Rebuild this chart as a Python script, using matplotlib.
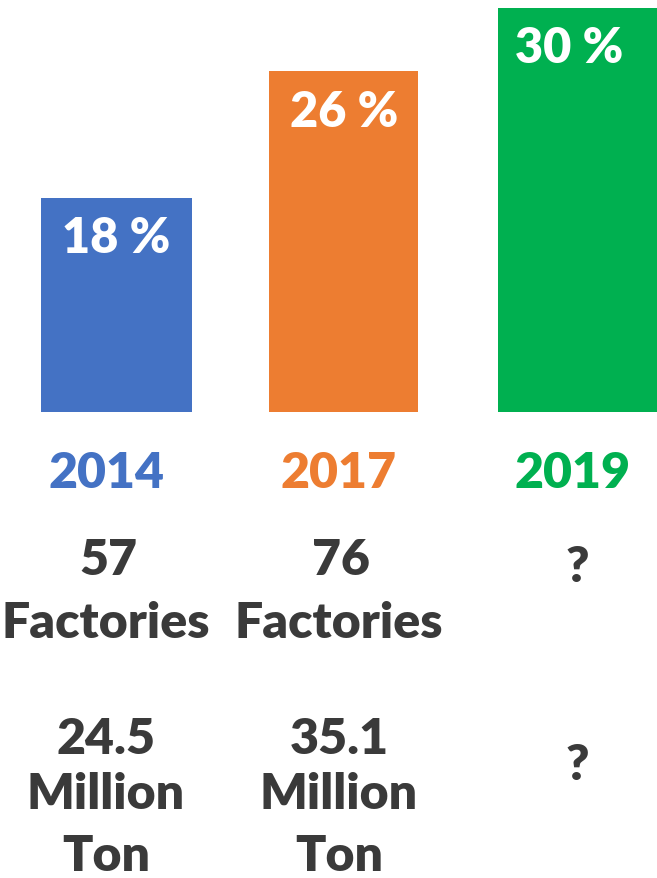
import matplotlib
matplotlib.use("Agg")
import matplotlib.pyplot as plt
from matplotlib.transforms import blended_transform_factory

# Share of production by year, plus factory count and output
years = ["2014", "2017", "2019"]
share_pct = [18, 26, 30]
factories = ["57", "76", "?"]
output_mt = ["24.5", "35.1", "?"]
colors = ["#4472C4", "#ED7D31", "#00B050"]
text_gray = "#3A3A3A"

W, H = 657, 879
fig = plt.figure(figsize=(W / 100, H / 100), dpi=100)
fig.patch.set_facecolor("white")

bar_bottom_px = 413
ax = fig.add_axes([0, 1 - bar_bottom_px / H, 1, bar_bottom_px / H])
ax.set_xlim(-0.511, 2.371)
ax.set_ylim(4.5, 30.55)
ax.axis("off")

xpos = list(range(len(years)))
widths = [0.662, 0.654, 0.80]
lefts = [x - 0.33 for x in xpos]
lefts[2] = 1.673
ax.bar(lefts, share_pct, width=widths, align="edge", color=colors, linewidth=0)

font = ["Lato", "DejaVu Sans"]
weight = "heavy"
pct_x = [0.0, 1.0, 1.985]
col_x = [-0.046, 0.976, 2.002]

# Percentage labels inside the top of each bar
for x, v in zip(pct_x, share_pct):
    ax.annotate(f"{v} %", xy=(x, v), xytext=(0, -40), textcoords="offset pixels",
                ha="center", va="center", fontsize=35, fontweight=weight,
                color="white", family=font)

trans = blended_transform_factory(ax.transData, fig.transFigure)

def put(x, y_px, s, color, size=36):
    fig.text(x, 1 - y_px / H, s, transform=trans, ha="center", va="center",
             fontsize=size, fontweight=weight, color=color, family=font)

for i, x in enumerate(col_x):
    put(x, 474, years[i], colors[i])
    if factories[i] == "?":
        put(x + 0.02, 567, "?", text_gray)
    else:
        put(x + 0.01, 561, factories[i], text_gray)
        put(x, 624, "Factories", text_gray)
    if output_mt[i] == "?":
        put(x + 0.02, 766, "?", text_gray)
    else:
        put(x, 740, output_mt[i], text_gray)
        put(x, 795, "Million", text_gray)
        put(x, 857, "Ton", text_gray)

fig.savefig("out.png", dpi=100, facecolor="white")
